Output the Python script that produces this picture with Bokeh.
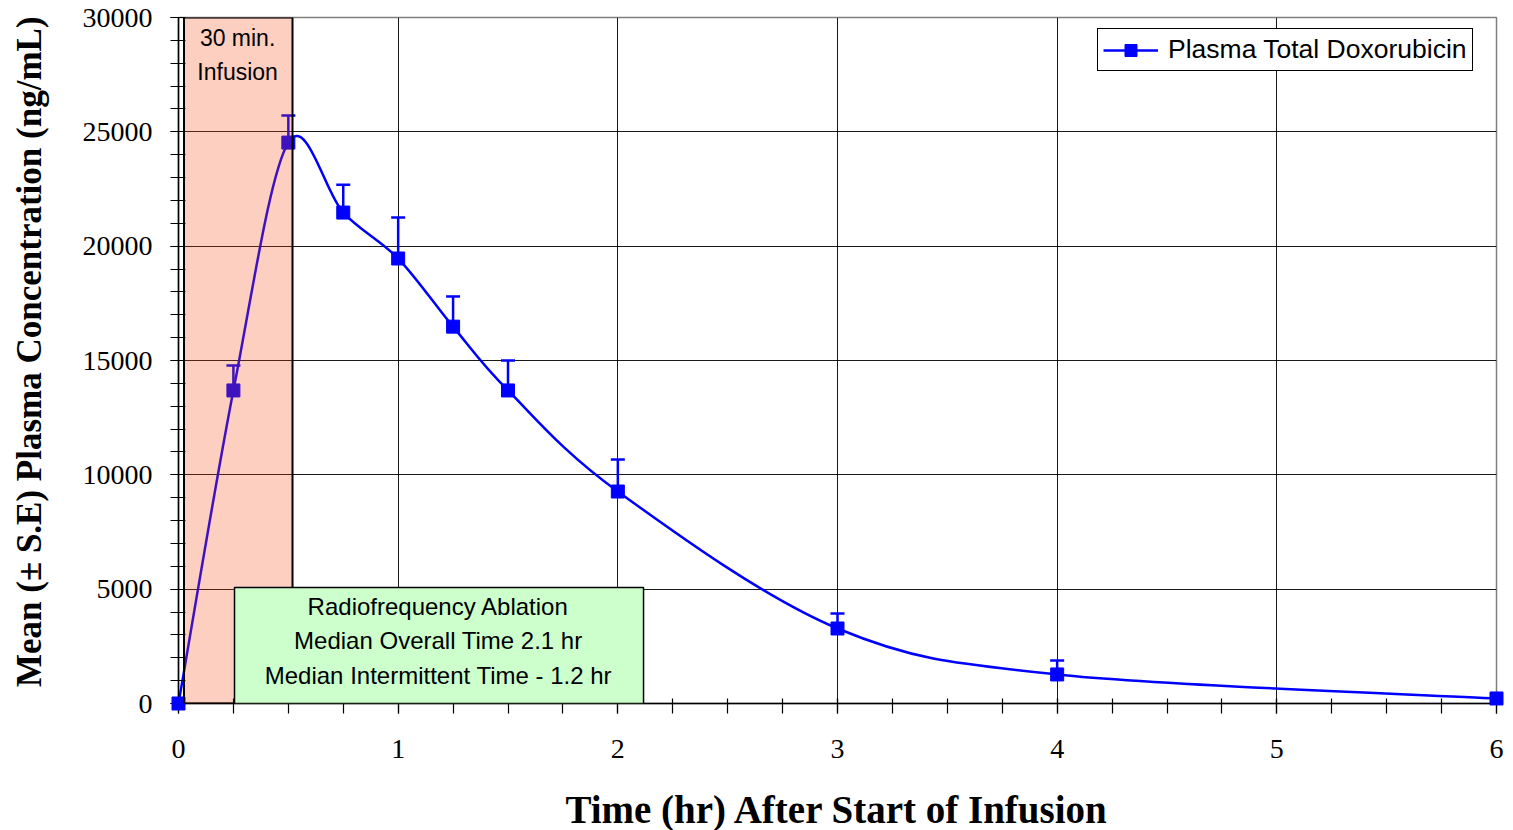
import numpy as np
from bokeh.plotting import figure
from bokeh.models import (Range1d, BoxAnnotation, Label, Whisker, ColumnDataSource,
                          Legend, LegendItem, SingleIntervalTicker)
from bokeh.embed import file_html
from bokeh.resources import INLINE

# ---- data ----
time_hr = [0.0, 0.25, 0.5, 0.75, 1.0, 1.25, 1.5, 2.0, 3.0, 4.0, 6.0]
conc = [0, 13690, 24530, 21470, 19460, 16480, 13690, 9270, 3280, 1270, 220]
se = [0, 1090, 1180, 1220, 1790, 1320, 1310, 1400, 655, 610, 0]
series_name = "Plasma Total Doxorubicin"
x_ticks = [0, 1, 2, 3, 4, 5, 6]
y_ticks = [0, 5000, 10000, 15000, 20000, 25000, 30000]
y_title = "Mean (\u00b1 S.E) Plasma Concentration   (ng/mL)"
x_title = "Time (hr) After Start of Infusion"

BLUE = "#0000FF"
SERIF = "Liberation Serif"
SANS = "Liberation Sans"

p = figure(frame_width=1318, frame_height=686,
           min_border_left=178, min_border_right=9, min_border_top=17, min_border_bottom=119,
           x_range=Range1d(0, 6), y_range=Range1d(0, 30000),
           output_backend="svg", toolbar_location=None)
p.background_fill_color = "white"
p.border_fill_color = "white"
p.outline_line_color = "#808080"
p.outline_line_width = 1.5

# grid
p.xgrid.ticker = x_ticks
p.ygrid.ticker = y_ticks
for g in (p.xgrid, p.ygrid):
    g.grid_line_color = "#000000"
    g.grid_line_width = 1
    g.grid_line_alpha = 0.9

# axes
p.xaxis.ticker = SingleIntervalTicker(interval=1, num_minor_ticks=4)
p.yaxis.ticker = SingleIntervalTicker(interval=5000, num_minor_ticks=5)
for ax in (p.xaxis, p.yaxis):
    ax.axis_line_color = "black"
    ax.axis_line_width = 1.5
    ax.major_tick_line_color = "black"
    ax.minor_tick_line_color = "black"
    ax.major_tick_line_width = 1.2
    ax.minor_tick_line_width = 1.2
    ax.major_label_text_font = SERIF
    ax.major_label_text_font_size = "28px"
    ax.major_label_text_color = "black"
    ax.axis_label_text_font = SERIF
    ax.axis_label_text_font_style = "bold"
    ax.axis_label_text_color = "black"

p.yaxis.major_tick_in = 7
p.yaxis.major_tick_out = 8
p.yaxis.minor_tick_in = 7
p.yaxis.minor_tick_out = 8
p.yaxis.major_label_standoff = 18
# leading no-break spaces nudge the rotated title slightly upward, as in the original
p.yaxis.axis_label = "\u00a0\u00a0\u00a0\u00a0" + y_title
p.yaxis.axis_label_text_font_size = "35px"
p.yaxis.axis_label_standoff = 31

p.xaxis.major_tick_in = 5
p.xaxis.major_tick_out = 10
p.xaxis.minor_tick_in = 5
p.xaxis.minor_tick_out = 10
p.xaxis.major_label_standoff = 26
p.xaxis.axis_label = x_title
p.xaxis.axis_label_text_font_size = "39px"
p.xaxis.axis_label_standoff = 27

# smooth curve (Excel-like smoothing) via bezier glyph with control points from data
t = np.array(time_hr, dtype=float)
c = np.array(conc, dtype=float)
n = len(t)
tp = np.concatenate([[t[0]], t, [t[-1]]])
cp = np.concatenate([[c[0]], c, [c[-1]]])
x0, y0, x1, y1, cx0, cy0, cx1, cy1 = [], [], [], [], [], [], [], []
for i in range(n - 1):
    a, b, cc, d = i, i + 1, i + 2, i + 3
    x0.append(tp[b]); y0.append(cp[b])
    x1.append(tp[cc]); y1.append(cp[cc])
    cx0.append(tp[b] + (tp[cc] - tp[a]) / 6.0)
    cy0.append(cp[b] + (cp[cc] - cp[a]) / 6.0)
    cx1.append(tp[cc] - (tp[d] - tp[b]) / 6.0)
    cy1.append(cp[cc] - (cp[d] - cp[b]) / 6.0)
p.bezier(x0=x0, y0=y0, x1=x1, y1=y1, cx0=cx0, cy0=cy0, cx1=cx1, cy1=cy1,
         line_color=BLUE, line_width=2.5)

# error bars (upper only)
mask = [s > 0 for s in se]
err_src = ColumnDataSource(dict(
    x=[tt for tt, m in zip(time_hr, mask) if m],
    lower=[cv for cv, m in zip(conc, mask) if m],
    upper=[cv + s for cv, s, m in zip(conc, se, mask) if m]))
wh = Whisker(source=err_src, base="x", upper="upper", lower="lower",
             line_color=BLUE, line_width=2.5, lower_head=None, level="glyph")
wh.upper_head.line_color = BLUE
wh.upper_head.line_width = 2.5
wh.upper_head.size = 14
p.add_layout(wh)

sq = p.scatter(time_hr, conc, marker="square", size=13, fill_color=BLUE, line_color=BLUE,
               level="overlay")
proxy = p.line([time_hr[0]], [conc[0]], line_color=BLUE, line_width=2.5)

# infusion shading (translucent wash over the data, as in the original)
p.add_layout(BoxAnnotation(left=0.025, right=0.519, bottom=0, top=30000,
                           fill_color="#F3460D", fill_alpha=0.26,
                           line_color=None, level="overlay"))
p.add_layout(BoxAnnotation(left=0.025, right=0.519, bottom=0, top=30000,
                           fill_alpha=0.0, line_color="black", line_alpha=1.0, line_width=2,
                           level="overlay"))

# RFA box
p.add_layout(BoxAnnotation(left=0.255, right=2.117, bottom=0, top=5070,
                           fill_color="#CCFFCC", fill_alpha=1.0,
                           line_color="black", line_alpha=1.0, line_width=1.5,
                           level="overlay"))

legend = Legend(items=[LegendItem(label=series_name, renderers=[proxy, sq])],
                location=(919, 632))
legend.border_line_color = "black"
legend.border_line_width = 1.2
legend.border_line_alpha = 1.0
legend.background_fill_color = "white"
legend.background_fill_alpha = 1.0
legend.label_text_font = SANS
legend.label_text_font_size = "26.5px"
legend.label_text_color = "black"
legend.glyph_width = 55
legend.glyph_height = 30
legend.padding = 5
legend.spacing = 0
legend.margin = 0
legend.label_standoff = 10
p.add_layout(legend)

# annotation texts
for txt, yy in (("30 min.", 29120), ("Infusion", 27630)):
    p.add_layout(Label(x=0.269, y=yy, text=txt, text_align="center", text_baseline="middle",
                       text_font=SANS, text_font_size="23px", text_color="black",
                       level="overlay"))
for txt, yy in (("Radiofrequency Ablation", 4240),
                ("Median Overall Time 2.1 hr", 2755),
                ("Median Intermittent Time - 1.2 hr", 1225)):
    p.add_layout(Label(x=1.183, y=yy, text=txt, text_align="center", text_baseline="middle",
                       text_font=SANS, text_font_size="24px", text_color="black",
                       level="overlay"))

open("out.html", "w").write(file_html(p, INLINE))
